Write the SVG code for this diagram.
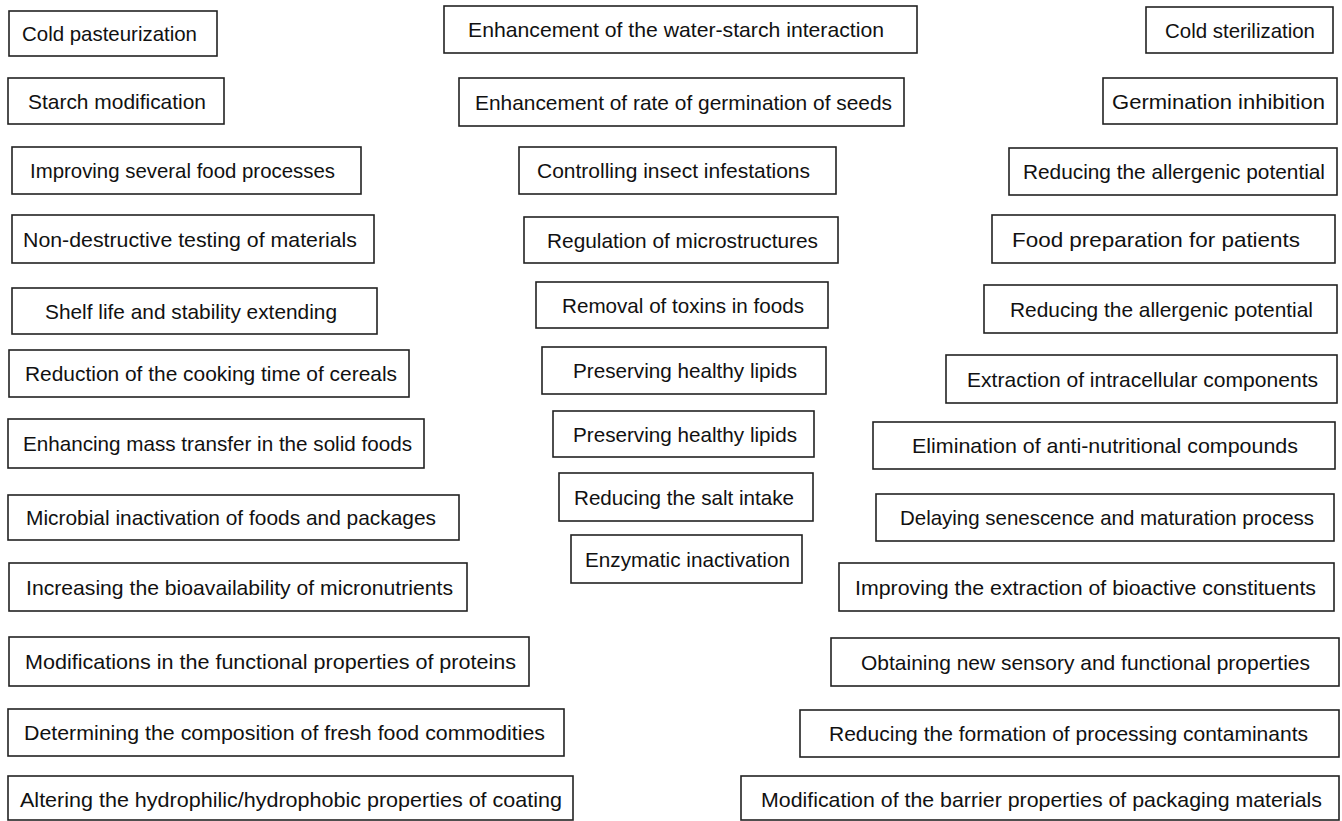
<svg xmlns="http://www.w3.org/2000/svg" width="1342" height="821" viewBox="0 0 1342 821">
<style>
.b{fill:#fff;stroke:#222;stroke-width:1.6}
.t{font-family:"Liberation Sans",Arial,sans-serif;font-size:21px;fill:#111}
</style>
<rect width="1342" height="821" fill="#fff"/>
<g id="connectors"></g>
<g id="left">
<g id="L1"><rect class="b" x="9" y="11" width="208" height="45"/><text class="t" x="22" y="41" textLength="175" lengthAdjust="spacingAndGlyphs">Cold pasteurization</text></g>
<g id="L2"><rect class="b" x="8" y="78" width="216" height="46"/><text class="t" x="28" y="108.5" textLength="178" lengthAdjust="spacingAndGlyphs">Starch modification</text></g>
<g id="L3"><rect class="b" x="12" y="147" width="349" height="47"/><text class="t" x="30" y="178" textLength="305" lengthAdjust="spacingAndGlyphs">Improving several food processes</text></g>
<g id="L4"><rect class="b" x="12" y="215" width="362" height="48"/><text class="t" x="23" y="246.5" textLength="334" lengthAdjust="spacingAndGlyphs">Non-destructive testing of materials</text></g>
<g id="L5"><rect class="b" x="12" y="288" width="365" height="46"/><text class="t" x="45" y="318.5" textLength="292" lengthAdjust="spacingAndGlyphs">Shelf life and stability extending</text></g>
<g id="L6"><rect class="b" x="9" y="350" width="400" height="47"/><text class="t" x="25" y="381" textLength="372" lengthAdjust="spacingAndGlyphs">Reduction of the cooking time of cereals</text></g>
<g id="L7"><rect class="b" x="8" y="419" width="416" height="49"/><text class="t" x="23" y="451" textLength="389" lengthAdjust="spacingAndGlyphs">Enhancing mass transfer in the solid foods</text></g>
<g id="L8"><rect class="b" x="8" y="495" width="451" height="45"/><text class="t" x="26" y="525" textLength="410" lengthAdjust="spacingAndGlyphs">Microbial inactivation of foods and packages</text></g>
<g id="L9"><rect class="b" x="9" y="563" width="458" height="48"/><text class="t" x="26" y="594.5" textLength="427" lengthAdjust="spacingAndGlyphs">Increasing the bioavailability of micronutrients</text></g>
<g id="L10"><rect class="b" x="9" y="637" width="520" height="49"/><text class="t" x="25" y="669" textLength="491" lengthAdjust="spacingAndGlyphs">Modifications in the functional properties of proteins</text></g>
<g id="L11"><rect class="b" x="8" y="709" width="556" height="47"/><text class="t" x="24" y="740" textLength="521" lengthAdjust="spacingAndGlyphs">Determining the composition of fresh food commodities</text></g>
<g id="L12"><rect class="b" x="8" y="776" width="565" height="44"/><text class="t" x="20" y="806.5" textLength="542" lengthAdjust="spacingAndGlyphs">Altering the hydrophilic/hydrophobic properties of coating</text></g>
</g>
<g id="center">
<g id="C1"><rect class="b" x="444" y="6" width="473" height="47"/><text class="t" x="468" y="37" textLength="416" lengthAdjust="spacingAndGlyphs">Enhancement of the water-starch interaction</text></g>
<g id="C2"><rect class="b" x="459" y="78" width="445" height="48"/><text class="t" x="475" y="109.5" textLength="417" lengthAdjust="spacingAndGlyphs">Enhancement of rate of germination of seeds</text></g>
<g id="C3"><rect class="b" x="519" y="147" width="317" height="47"/><text class="t" x="537" y="178" textLength="273" lengthAdjust="spacingAndGlyphs">Controlling insect infestations</text></g>
<g id="C4"><rect class="b" x="524" y="217" width="314" height="46"/><text class="t" x="547" y="247.5" textLength="271" lengthAdjust="spacingAndGlyphs">Regulation of microstructures</text></g>
<g id="C5"><rect class="b" x="536" y="282" width="292" height="46"/><text class="t" x="562" y="312.5" textLength="242" lengthAdjust="spacingAndGlyphs">Removal of toxins in foods</text></g>
<g id="C6"><rect class="b" x="542" y="347" width="284" height="47"/><text class="t" x="573" y="378" textLength="224" lengthAdjust="spacingAndGlyphs">Preserving healthy lipids</text></g>
<g id="C7"><rect class="b" x="553" y="411" width="261" height="46"/><text class="t" x="573" y="441.5" textLength="224" lengthAdjust="spacingAndGlyphs">Preserving healthy lipids</text></g>
<g id="C8"><rect class="b" x="559" y="473" width="254" height="48"/><text class="t" x="574" y="504.5" textLength="220" lengthAdjust="spacingAndGlyphs">Reducing the salt intake</text></g>
<g id="C9"><rect class="b" x="571" y="535" width="231" height="48"/><text class="t" x="585" y="566.5" textLength="205" lengthAdjust="spacingAndGlyphs">Enzymatic inactivation</text></g>
</g>
<g id="right">
<g id="R1"><rect class="b" x="1146" y="7" width="187" height="46"/><text class="t" x="1165" y="37.5" textLength="150" lengthAdjust="spacingAndGlyphs">Cold sterilization</text></g>
<g id="R2"><rect class="b" x="1103" y="78" width="234" height="46"/><text class="t" x="1112" y="108.5" textLength="213" lengthAdjust="spacingAndGlyphs">Germination inhibition</text></g>
<g id="R3"><rect class="b" x="1009" y="148" width="328" height="47"/><text class="t" x="1023" y="179" textLength="302" lengthAdjust="spacingAndGlyphs">Reducing the allergenic potential</text></g>
<g id="R4"><rect class="b" x="992" y="215" width="343" height="48"/><text class="t" x="1012" y="246.5" textLength="288" lengthAdjust="spacingAndGlyphs">Food preparation for patients</text></g>
<g id="R5"><rect class="b" x="984" y="285" width="353" height="48"/><text class="t" x="1010" y="316.5" textLength="303" lengthAdjust="spacingAndGlyphs">Reducing the allergenic potential</text></g>
<g id="R6"><rect class="b" x="946" y="355" width="391" height="48"/><text class="t" x="967" y="386.5" textLength="351" lengthAdjust="spacingAndGlyphs">Extraction of intracellular components</text></g>
<g id="R7"><rect class="b" x="873" y="422" width="462" height="47"/><text class="t" x="912" y="453" textLength="386" lengthAdjust="spacingAndGlyphs">Elimination of anti-nutritional compounds</text></g>
<g id="R8"><rect class="b" x="876" y="494" width="458" height="47"/><text class="t" x="900" y="525" textLength="414" lengthAdjust="spacingAndGlyphs">Delaying senescence and maturation process</text></g>
<g id="R9"><rect class="b" x="839" y="563" width="495" height="48"/><text class="t" x="855" y="594.5" textLength="461" lengthAdjust="spacingAndGlyphs">Improving the extraction of bioactive constituents</text></g>
<g id="R10"><rect class="b" x="831" y="638" width="508" height="48"/><text class="t" x="861" y="669.5" textLength="449" lengthAdjust="spacingAndGlyphs">Obtaining new sensory and functional properties</text></g>
<g id="R11"><rect class="b" x="800" y="710" width="539" height="47"/><text class="t" x="829" y="741" textLength="479" lengthAdjust="spacingAndGlyphs">Reducing the formation of processing contaminants</text></g>
<g id="R12"><rect class="b" x="741" y="776" width="598" height="44"/><text class="t" x="761" y="806.5" textLength="561" lengthAdjust="spacingAndGlyphs">Modification of the barrier properties of packaging materials</text></g>
</g>
</svg>
